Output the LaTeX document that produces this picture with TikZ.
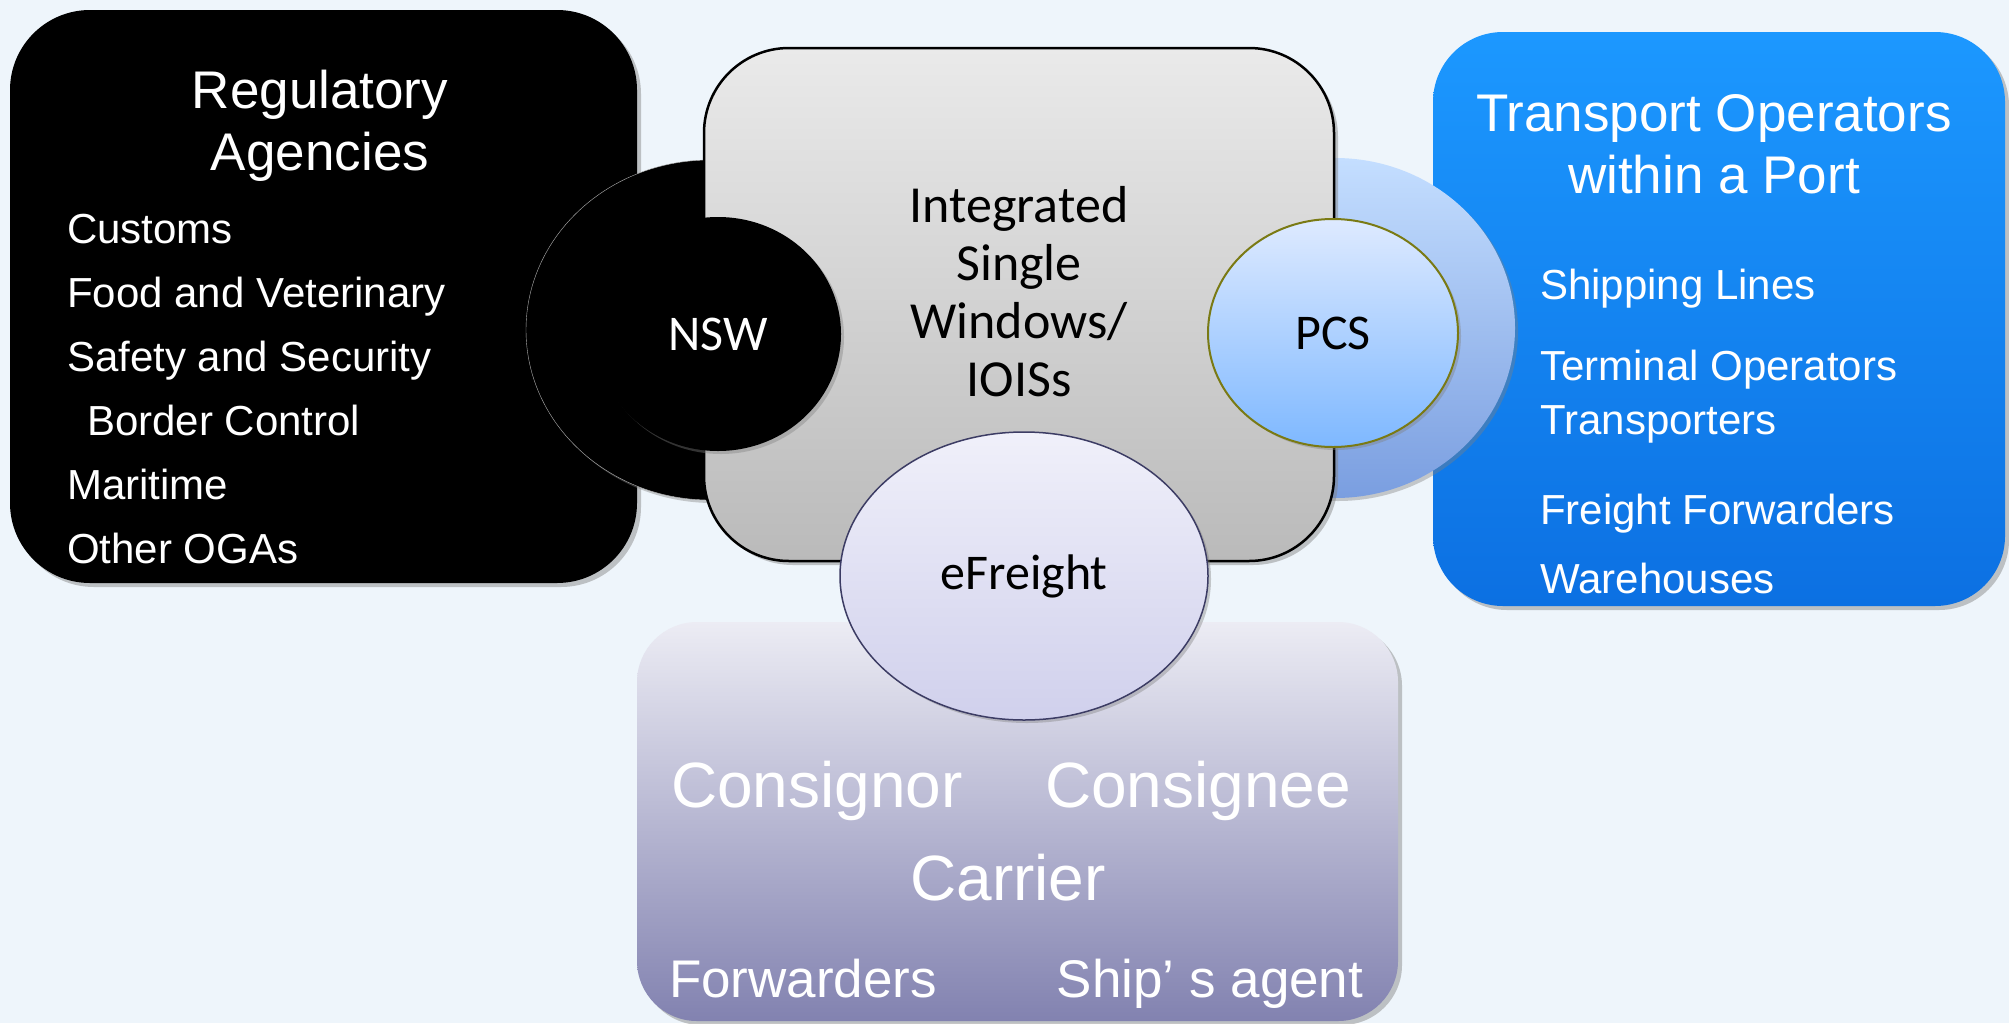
\documentclass[tikz,border=0pt]{standalone}
\usepackage{fontspec}
\setmainfont{Liberation Sans}
\newfontfamily\condfont{Carlito}
\usepackage{tikz}
\usetikzlibrary{shapes.geometric,shadows}

\definecolor{bgtint}{RGB}{238,245,251}
\definecolor{iswtop}{RGB}{234,234,234}
\definecolor{iswbottom}{RGB}{186,186,186}
\definecolor{porttop}{RGB}{28,152,255}
\definecolor{portbottom}{RGB}{12,112,226}
\definecolor{ringtop}{RGB}{196,222,255}
\definecolor{ringbottom}{RGB}{122,158,224}
\definecolor{pcstop}{RGB}{222,234,255}
\definecolor{pcsbottom}{RGB}{126,184,255}
\definecolor{pcsline}{RGB}{122,122,20}
\definecolor{freighttop}{RGB}{240,240,250}
\definecolor{freightbottom}{RGB}{208,208,236}
\definecolor{freightline}{RGB}{60,60,100}
\definecolor{tradetop}{RGB}{236,236,244}
\definecolor{tradebottom}{RGB}{130,130,176}

\begin{document}
\begin{tikzpicture}[x=1pt, y=-1pt,
		panel/.style={rectangle, inner sep=0pt, drop shadow={opacity=0.45,
		shadow xshift=4pt, shadow yshift=-4pt}},
		disc/.style={ellipse, inner sep=0pt, drop shadow={opacity=0.4,
		shadow xshift=3pt, shadow yshift=-3pt}},
		title-text/.style={font=\fontsize{53}{62}\selectfont, align=center, text=white},
		item-text/.style={font=\fontsize{42}{48}\selectfont, anchor=base west,
		text=white, inner sep=0pt},
		cond-text/.style={font=\condfont\fontsize{50}{58}\selectfont, align=center},
		party-text/.style={font=\fontsize{64}{72}\selectfont, anchor=base,
		text=white, inner sep=0pt},
		]

		\def\itemx{67}
		\def\portx{1540}

		\useasboundingbox (0,0) rectangle (2009,1023);
		\fill[bgtint] (0,0) rectangle (2009,1023);

		% stakeholder boxes
		\node[panel, rounded corners=80pt, fill=black, minimum width=627pt,
		minimum height=573pt] (regbox) at (323.5,296.5) {};
		\node[panel, rounded corners=70pt, top color=porttop, bottom color=portbottom,
		minimum width=572pt, minimum height=574pt] (portbox) at (1719,319) {};
		\node[panel, rounded corners=60pt, top color=tradetop, bottom color=tradebottom,
		minimum width=761pt, minimum height=399pt] (tradebox) at (1017.5,821.5) {};

		% rings behind the single window
		\node[disc, fill=black, draw=gray!60, minimum width=368pt,
		minimum height=340pt] (nswring) at (710,330) {};
		\node[disc, top color=ringtop, bottom color=ringbottom, minimum width=360pt,
		minimum height=340pt] (pcsring) at (1335,328) {};

		% single window
		\node[panel, rounded corners=85pt, top color=iswtop, bottom color=iswbottom,
		draw=black, line width=2.5pt, minimum width=630pt,
		minimum height=513pt] (iswbox) at (1019,304.5) {};
		\node[cond-text, font=\condfont\fontsize{52}{58}\selectfont] (iswlabel)
		at (1019,292) {Integrated\\Single\\Windows/\\IOISs};

		\node[disc, cond-text, fill=black, text=white, minimum width=246pt,
		minimum height=234pt] (nsw) at (718,334) {NSW};
		\node[disc, cond-text, top color=pcstop, bottom color=pcsbottom, draw=pcsline,
		line width=2pt, minimum width=250pt, minimum height=228pt] (pcs) at (1333,333) {PCS};
		\node[disc, cond-text, top color=freighttop, bottom color=freightbottom,
		draw=freightline, line width=1.5pt, minimum width=368pt,
		minimum height=288pt] (efreight) at (1024,576) {eFreight};

		% regulatory agencies
		\node[title-text] (regtitle) at (320,126) {Regulatory\\Agencies};
		\node[item-text] (customs) at (\itemx,243) {Customs};
		\node[item-text] (food) at (\itemx,307) {Food and Veterinary};
		\node[item-text] (safety) at (\itemx,371) {Safety and Security};
		\node[item-text] (border) at (87,435) {Border Control};
		\node[item-text] (maritime) at (\itemx,499) {Maritime};
		\node[item-text] (ogas) at (\itemx,563) {Other OGAs};

		% port operators
		\node[title-text] (porttitle) at (1714,144) {Transport Operators\\within a Port};
		\node[item-text] (shipping) at (\portx,299) {Shipping Lines};
		\node[item-text] (terminal) at (\portx,380) {Terminal Operators};
		\node[item-text] (transporters) at (\portx,434) {Transporters};
		\node[item-text] (freightfw) at (\portx,524) {Freight Forwarders};
		\node[item-text] (warehouses) at (\portx,593) {Warehouses};

		% trade parties
		\node[party-text] (consignor) at (817,807) {Consignor};
		\node[party-text] (consignee) at (1198,807) {Consignee};
		\node[party-text] (carrier) at (1008,900) {Carrier};
		\node[party-text, font=\fontsize{53}{60}\selectfont] (forwarders) at (803,997) {Forwarders};
		\node[party-text, font=\fontsize{53}{60}\selectfont] (shipagent) at (1210,997) {Ship’ s agent};

	\end{tikzpicture}
\end{document}
